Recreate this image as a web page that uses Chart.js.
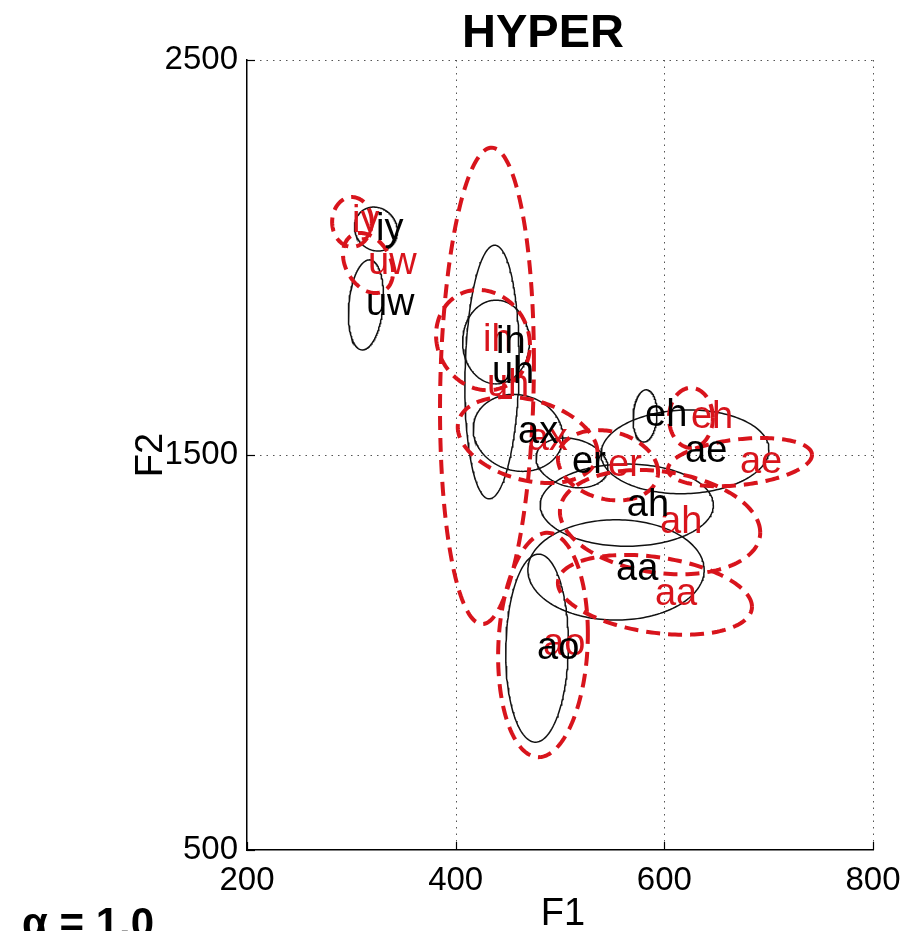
<!DOCTYPE html>
<html>
<head>
<meta charset="utf-8">
<script src="https://cdn.jsdelivr.net/npm/chart.js@4.4.1/dist/chart.umd.min.js"></script>
<style>
  html, body { margin: 0; padding: 0; background: #fff; overflow: hidden; }
  #wrap { width: 913px; height: 931px; position: relative; }
</style>
</head>
<body>
<div id="wrap"><canvas id="c" width="913" height="931"></canvas></div>
<script>
// Vowel categories
const vowels = ['iy', 'uw', 'ih', 'uh', 'ax', 'er', 'eh', 'ae', 'ah', 'aa', 'ao'];

// Reference vowel space (solid black): mean F1/F2, spread of F1/F2, F1–F2 correlation
const refF1    = [323.6, 314, 438.7, 434.8, 459.8, 511.5, 581.5, 619.8, 564, 553.7, 478];
const refF2    = [2072, 1880, 1786, 1710, 1556, 1480, 1599, 1508, 1373, 1209, 1011];
const refSdF1  = [20.6, 16.8, 32, 26, 43, 34.5, 11.5, 80.5, 83, 84.5, 30];
const refSdF2  = [55.7, 114, 106, 321, 97.5, 63, 66, 106, 104, 127, 238];
const refRho   = [-0.1, 0.2, 0, 0.1, -0.1, -0.2, 0.1, 0.05, 0, 0, 0.05];

// HYPER vowel space (dashed red)
const hypF1    = [300.6, 316, 426.2, 430, 469, 546, 625.5, 672.5, 595.9, 591, 483.7];
const hypF2    = [2090, 1986, 1791, 1675, 1538, 1474, 1594, 1482, 1330, 1146, 1019];
const hypSdF1  = [19, 24, 45, 45, 67, 48, 21, 69, 96, 93, 43];
const hypSdF2  = [63, 76, 127, 603, 109, 89, 76, 61, 132, 101, 284];
const hypRho   = [0, -0.3, -0.1, 0.1, -0.3, -0.2, 0, 0.3, -0.2, -0.3, 0.1];

// Axis ticks
const f1Ticks = [200, 400, 600, 800];
const f2Ticks = [500, 1500, 2500];

const FONT = "'Liberation Sans', Arial, Helvetica, sans-serif";
const RED = '#d8141c';

// Outline of a 1-sigma ellipse for a given mean, spread and correlation
function ellipseOutline(cx, cy, sx, sy, rho) {
  const pts = [];
  const n = 180;
  const k = Math.sqrt(1 - rho * rho);
  for (let i = 0; i <= n; i++) {
    const t = 2 * Math.PI * i / n;
    pts.push({ x: cx + sx * Math.cos(t), y: cy + sy * (rho * Math.cos(t) + k * Math.sin(t)) });
  }
  return pts;
}

const datasets = [];
vowels.forEach((v, i) => {
  datasets.push({
    label: v + ' (ref)',
    data: ellipseOutline(refF1[i], refF2[i], refSdF1[i], refSdF2[i], refRho[i]),
    showLine: true, pointRadius: 0, borderColor: '#111', borderWidth: 1.5,
    fill: false, tension: 0, order: 2
  });
});
vowels.forEach((v, i) => {
  datasets.push({
    label: v + ' (hyper)',
    data: ellipseOutline(hypF1[i], hypF2[i], hypSdF1[i], hypSdF2[i], hypRho[i]),
    showLine: true, pointRadius: 0, borderColor: RED, borderWidth: 4,
    borderDash: [14, 8], borderCapStyle: 'butt',
    fill: false, tension: 0, order: 1
  });
});

const decor = {
  id: 'decor',
  beforeDatasetsDraw(chart) {
    const { ctx, chartArea: a, scales: { x, y } } = chart;
    ctx.save();
    ctx.strokeStyle = '#555';
    ctx.lineWidth = 1;
    ctx.setLineDash([1.5, 5]);
    f1Ticks.slice(1).forEach(v => {
      const px = Math.round(x.getPixelForValue(v)) + 0.5;
      ctx.beginPath(); ctx.moveTo(px, a.top); ctx.lineTo(px, a.bottom); ctx.stroke();
    });
    f2Ticks.slice(1).forEach(v => {
      const py = Math.round(y.getPixelForValue(v)) + 0.5;
      ctx.beginPath(); ctx.moveTo(a.left, py); ctx.lineTo(a.right, py); ctx.stroke();
    });
    ctx.restore();
  },
  afterDatasetsDraw(chart) {
    const { ctx, scales: { x, y } } = chart;
    ctx.save();
    ctx.font = '38px ' + FONT;
    ctx.textAlign = 'left';
    ctx.textBaseline = 'middle';
    ctx.fillStyle = RED;
    vowels.forEach((v, i) => ctx.fillText(v, x.getPixelForValue(hypF1[i]), y.getPixelForValue(hypF2[i])));
    ctx.fillStyle = '#000';
    vowels.forEach((v, i) => ctx.fillText(v, x.getPixelForValue(refF1[i]), y.getPixelForValue(refF2[i])));
    ctx.restore();
  },
  afterDraw(chart) {
    const { ctx, chartArea: a, scales: { x, y } } = chart;
    ctx.save();
    // inward tick marks
    ctx.strokeStyle = '#000';
    ctx.lineWidth = 1.2;
    f1Ticks.forEach(v => {
      const px = Math.round(x.getPixelForValue(v)) + 0.5;
      ctx.beginPath(); ctx.moveTo(px, a.bottom); ctx.lineTo(px, a.bottom - 8); ctx.stroke();
    });
    f2Ticks.forEach(v => {
      const py = Math.round(y.getPixelForValue(v)) + 0.5;
      ctx.beginPath(); ctx.moveTo(a.left, py); ctx.lineTo(a.left + 8, py); ctx.stroke();
    });
    // title
    ctx.fillStyle = '#000';
    ctx.textAlign = 'center';
    ctx.textBaseline = 'alphabetic';
    ctx.font = 'bold 47px ' + FONT;
    ctx.fillText('HYPER', 543, 47);
    // axis titles
    ctx.font = '38px ' + FONT;
    ctx.fillText('F1', (a.left + a.right) / 2 + 3, 925);
    ctx.save();
    ctx.translate(162, (a.top + a.bottom) / 2);
    ctx.rotate(-Math.PI / 2);
    ctx.fillText('F2', 0, 0);
    ctx.restore();
    // condition note
    ctx.textAlign = 'left';
    ctx.font = 'bold 42px ' + FONT;
    ctx.fillText('α = 1.0', 22, 937);
    ctx.restore();
  }
};

new Chart(document.getElementById('c'), {
  type: 'scatter',
  data: { datasets },
  options: {
    responsive: false,
    animation: false,
    devicePixelRatio: 1,
    layout: { padding: { left: 0, right: 40, top: 60, bottom: 0 } },
    plugins: { legend: { display: false }, tooltip: { enabled: false }, title: { display: false } },
    scales: {
      x: {
        type: 'linear', min: 200, max: 800,
        afterBuildTicks: s => { s.ticks = f1Ticks.map(v => ({ value: v })); },
        afterFit: s => { s.height = 81; },
        grid: { display: false, drawTicks: false },
        border: { display: true, color: '#000', width: 1.5 },
        ticks: { color: '#000', padding: 11, maxRotation: 0, autoSkip: false,
                 callback: v => String(v), font: { family: FONT, size: 33 } }
      },
      y: {
        type: 'linear', min: 500, max: 2500,
        afterBuildTicks: s => { s.ticks = f2Ticks.map(v => ({ value: v })); },
        afterFit: s => { s.width = 247; },
        grid: { display: false, drawTicks: false },
        border: { display: true, color: '#000', width: 1.5 },
        ticks: { color: '#000', padding: 9, autoSkip: false,
                 callback: v => String(v), font: { family: FONT, size: 33 } }
      }
    }
  },
  plugins: [decor]
});
</script>
</body>
</html>
